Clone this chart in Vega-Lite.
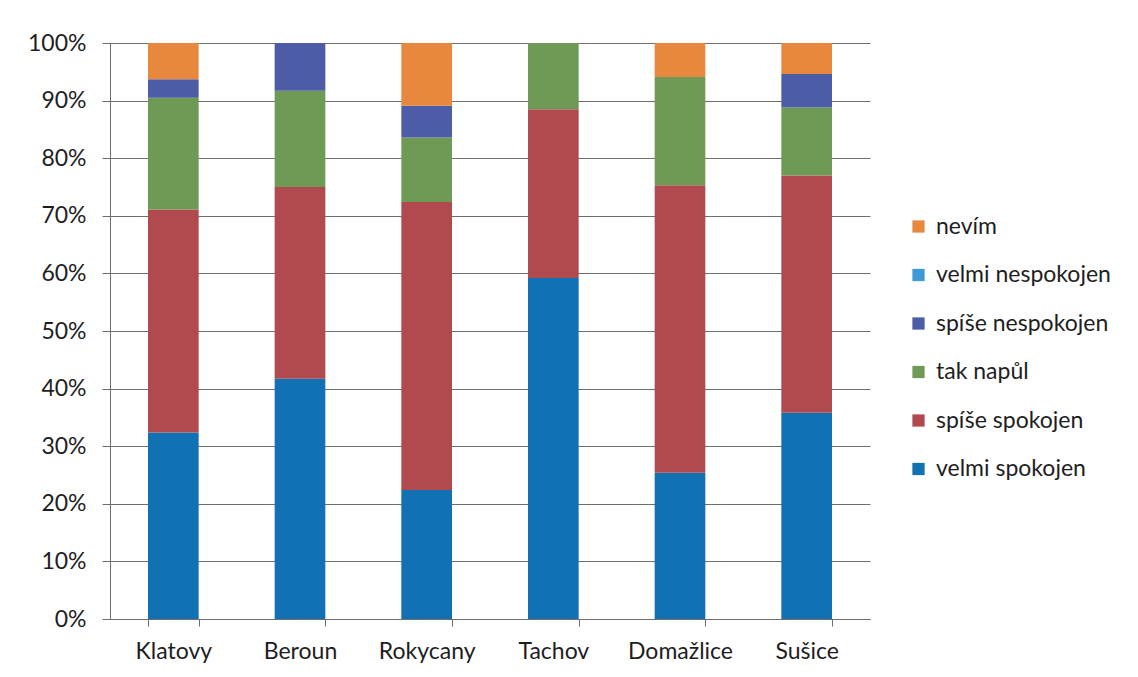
{
  "$schema": "https://vega.github.io/schema/vega-lite/v6.json",
  "width": 760,
  "height": 576,
  "autosize": "none",
  "padding": {"left": 110, "top": 43, "right": 268, "bottom": 58},
  "background": "white",
  "data": {
    "values": [
      {"okres": "Klatovy", "kategorie": "velmi spokojen", "podil": 0.324},
      {"okres": "Klatovy", "kategorie": "spíše spokojen", "podil": 0.387},
      {"okres": "Klatovy", "kategorie": "tak napůl", "podil": 0.194},
      {"okres": "Klatovy", "kategorie": "spíše nespokojen", "podil": 0.032},
      {"okres": "Klatovy", "kategorie": "velmi nespokojen", "podil": 0},
      {"okres": "Klatovy", "kategorie": "nevím", "podil": 0.063},
      {"okres": "Beroun", "kategorie": "velmi spokojen", "podil": 0.417},
      {"okres": "Beroun", "kategorie": "spíše spokojen", "podil": 0.333},
      {"okres": "Beroun", "kategorie": "tak napůl", "podil": 0.167},
      {"okres": "Beroun", "kategorie": "spíše nespokojen", "podil": 0.083},
      {"okres": "Beroun", "kategorie": "velmi nespokojen", "podil": 0},
      {"okres": "Beroun", "kategorie": "nevím", "podil": 0},
      {"okres": "Rokycany", "kategorie": "velmi spokojen", "podil": 0.224},
      {"okres": "Rokycany", "kategorie": "spíše spokojen", "podil": 0.500},
      {"okres": "Rokycany", "kategorie": "tak napůl", "podil": 0.112},
      {"okres": "Rokycany", "kategorie": "spíše nespokojen", "podil": 0.055},
      {"okres": "Rokycany", "kategorie": "velmi nespokojen", "podil": 0},
      {"okres": "Rokycany", "kategorie": "nevím", "podil": 0.109},
      {"okres": "Tachov", "kategorie": "velmi spokojen", "podil": 0.592},
      {"okres": "Tachov", "kategorie": "spíše spokojen", "podil": 0.293},
      {"okres": "Tachov", "kategorie": "tak napůl", "podil": 0.115},
      {"okres": "Tachov", "kategorie": "spíše nespokojen", "podil": 0},
      {"okres": "Tachov", "kategorie": "velmi nespokojen", "podil": 0},
      {"okres": "Tachov", "kategorie": "nevím", "podil": 0},
      {"okres": "Domažlice", "kategorie": "velmi spokojen", "podil": 0.254},
      {"okres": "Domažlice", "kategorie": "spíše spokojen", "podil": 0.499},
      {"okres": "Domažlice", "kategorie": "tak napůl", "podil": 0.188},
      {"okres": "Domažlice", "kategorie": "spíše nespokojen", "podil": 0},
      {"okres": "Domažlice", "kategorie": "velmi nespokojen", "podil": 0},
      {"okres": "Domažlice", "kategorie": "nevím", "podil": 0.059},
      {"okres": "Sušice", "kategorie": "velmi spokojen", "podil": 0.358},
      {"okres": "Sušice", "kategorie": "spíše spokojen", "podil": 0.412},
      {"okres": "Sušice", "kategorie": "tak napůl", "podil": 0.118},
      {"okres": "Sušice", "kategorie": "spíše nespokojen", "podil": 0.058},
      {"okres": "Sušice", "kategorie": "velmi nespokojen", "podil": 0},
      {"okres": "Sušice", "kategorie": "nevím", "podil": 0.054}
    ]
  },
  "transform": [
    {"calculate": "indexof(['velmi spokojen', 'spíše spokojen', 'tak napůl', 'spíše nespokojen', 'velmi nespokojen', 'nevím'], datum.kategorie)", "as": "poradi"}
  ],
  "mark": {"type": "bar"},
  "encoding": {
    "x": {
      "field": "okres",
      "type": "nominal",
      "sort": ["Klatovy", "Beroun", "Rokycany", "Tachov", "Domažlice", "Sušice"],
      "scale": {"paddingInner": 0.6, "paddingOuter": 0.3},
      "axis": {
        "title": null,
        "labelAngle": 0,
        "tickBand": "extent",
        "grid": false,
        "domainColor": "#6e6e6e",
        "tickColor": "#6e6e6e",
        "tickSize": 7,
        "labelPadding": 14,
        "labelFont": "Lato",
        "labelFontSize": 23,
        "labelColor": "#1e1e1e"
      }
    },
    "y": {
      "field": "podil",
      "type": "quantitative",
      "stack": "zero",
      "scale": {"domain": [0, 1], "nice": false},
      "axis": {
        "title": null,
        "format": ".0%",
        "values": [0, 0.1, 0.2, 0.3, 0.4, 0.5, 0.6, 0.7, 0.8, 0.9, 1],
        "grid": true,
        "gridColor": "#6e6e6e",
        "gridWidth": 1,
        "domainColor": "#6e6e6e",
        "tickColor": "#6e6e6e",
        "tickSize": 8,
        "labelPadding": 16,
        "labelFont": "Lato",
        "labelFontSize": 23,
        "labelColor": "#1e1e1e"
      }
    },
    "order": {"field": "poradi", "type": "quantitative", "sort": "ascending"},
    "color": {
      "field": "kategorie",
      "type": "nominal",
      "scale": {
        "domain": ["nevím", "velmi nespokojen", "spíše nespokojen", "tak napůl", "spíše spokojen", "velmi spokojen"],
        "range": ["#e8883e", "#3d9ad4", "#4d5ca6", "#6f9a55", "#b04a4f", "#1271b2"]
      },
      "legend": {
        "title": null,
        "orient": "none",
        "legendX": 797,
        "legendY": 172,
        "symbolType": "square",
        "symbolSize": 150,
        "symbolStrokeWidth": 0,
        "rowPadding": 24.5,
        "labelFont": "Lato",
        "labelFontSize": 23,
        "labelColor": "#1e1e1e",
        "labelOffset": 6,
        "labelLimit": 300
      }
    }
  },
  "config": {
    "view": {"stroke": null}
  }
}
